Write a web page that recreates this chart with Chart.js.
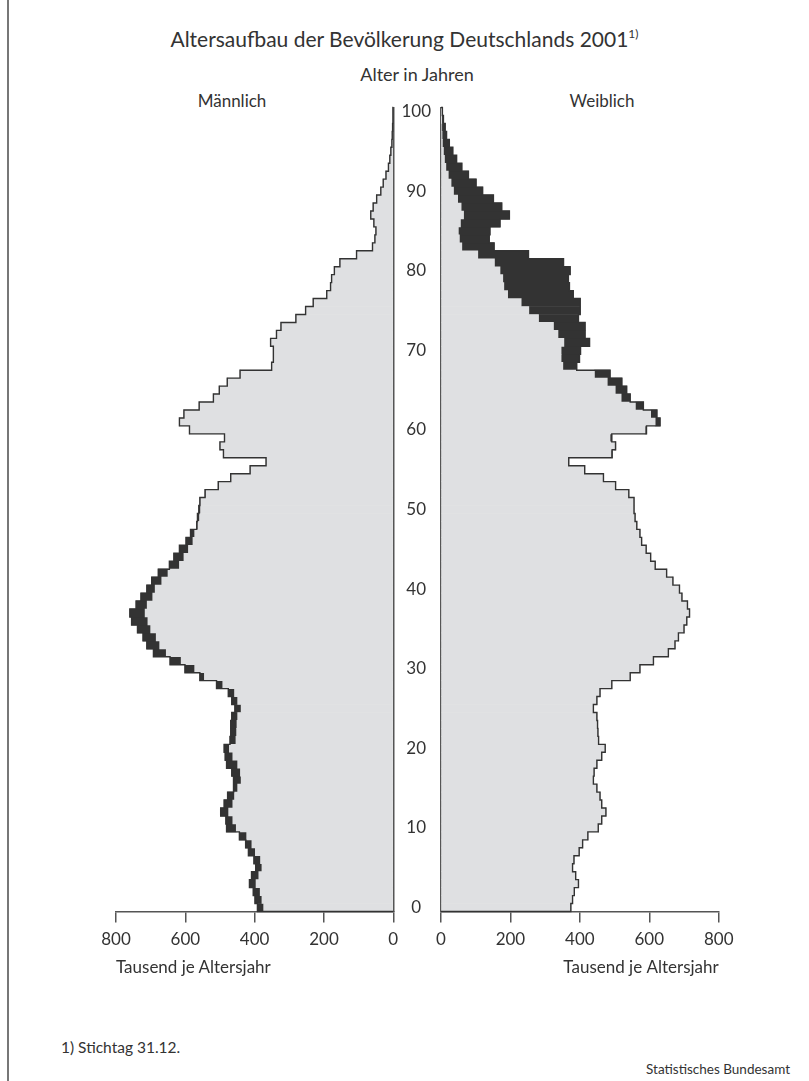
<!DOCTYPE html>
<html lang="de">
<head>
<meta charset="utf-8">
<title>Altersaufbau der Bevölkerung Deutschlands 2001</title>
<script src="https://cdn.jsdelivr.net/npm/chart.js@4.4.1/dist/chart.umd.min.js"></script>
<style>
    html, body { margin: 0; padding: 0; background: #fff; }
    body {
        width: 809px; height: 1081px; position: relative; overflow: hidden;
        font-family: Lato, 'Open Sans', sans-serif; color: #333;
    }
    .frame { position: absolute; left: 7px; top: 0; width: 2px; height: 1081px; background: #777; }
    .txt { position: absolute; white-space: nowrap; line-height: 1.2; }
    #title { left: 0; width: 809px; top: 26px; text-align: center; font-size: 21px; }
    #title sup { font-size: 12px; vertical-align: 9px; line-height: 0; }
    #ageTitle { left: 317px; width: 200px; top: 64px; text-align: center; font-size: 18px; }
    #maleTitle { left: 132px; width: 200px; top: 91px; text-align: center; font-size: 17px; }
    #femaleTitle { left: 502px; width: 200px; top: 91px; text-align: center; font-size: 17px; }
    #maleUnit { left: 116px; top: 957px; font-size: 17px; }
    #note { left: 61px; top: 1038px; font-size: 15.5px; }
    #source { right: 19px; top: 1061px; font-size: 13.5px; }
    .box { position: absolute; top: 0; height: 1000px; }
    #maleBox { left: 0; width: 400px; }
    #femaleBox { left: 393px; width: 416px; }
</style>
</head>
<body>
<div class="frame"></div>
<div class="txt" id="title">Altersaufbau der Bevölkerung Deutschlands 2001<sup>1)</sup></div>
<div class="txt" id="ageTitle">Alter in Jahren</div>
<div class="txt" id="maleTitle">Männlich</div>
<div class="txt" id="femaleTitle">Weiblich</div>
<div class="box" id="maleBox"><canvas id="maleChart" width="400" height="1000"></canvas></div>
<div class="box" id="femaleBox"><canvas id="femaleChart" width="416" height="1000"></canvas></div>
<div class="txt" id="maleUnit">Tausend je Altersjahr</div>
<div class="txt" id="note">1) Stichtag 31.12.</div>
<div class="txt" id="source">Statistisches Bundesamt</div>

<script>
// Ages 0..100 (one bar per Altersjahr)
const ages = [
    0, 1, 2, 3, 4, 5, 6, 7, 8, 9,
    10, 11, 12, 13, 14, 15, 16, 17, 18, 19,
    20, 21, 22, 23, 24, 25, 26, 27, 28, 29,
    30, 31, 32, 33, 34, 35, 36, 37, 38, 39,
    40, 41, 42, 43, 44, 45, 46, 47, 48, 49,
    50, 51, 52, 53, 54, 55, 56, 57, 58, 59,
    60, 61, 62, 63, 64, 65, 66, 67, 68, 69,
    70, 71, 72, 73, 74, 75, 76, 77, 78, 79,
    80, 81, 82, 83, 84, 85, 86, 87, 88, 89,
    90, 91, 92, 93, 94, 95, 96, 97, 98, 99,
    100
];

// Männlich, Tausend je Altersjahr
const maleValues = [
    392, 399, 404, 415, 409, 397, 402, 418, 426, 444,
    481, 483, 498, 488, 478, 461, 461, 466, 481, 485,
    488, 471, 469, 469, 466, 457, 466, 476, 510, 558,
    601, 644, 692, 711, 722, 738, 755, 760, 742, 728,
    711, 697, 678, 646, 633, 617, 598, 585, 567, 565,
    561, 558, 543, 505, 469, 413, 367, 490, 500, 487,
    588, 617, 604, 560, 519, 502, 479, 442, 351, 346,
    346, 354, 337, 324, 281, 253, 231, 192, 181, 178,
    170, 154, 106, 60, 53, 50, 56, 65, 58, 48,
    36, 29, 21, 14, 10, 7, 4, 3, 2, 1,
    1
];

// Weiblich, Tausend je Altersjahr
const femaleValues = [
    374, 379, 384, 396, 388, 379, 383, 398, 408, 423,
    453, 463, 475, 463, 458, 449, 439, 441, 449, 463,
    473, 454, 452, 451, 449, 439, 449, 458, 492, 545,
    573, 612, 655, 674, 684, 700, 708, 716, 710, 694,
    687, 668, 650, 617, 604, 591, 578, 573, 564, 559,
    556, 556, 541, 503, 468, 414, 368, 493, 503, 492,
    592, 631, 622, 583, 545, 535, 521, 487, 391, 399,
    402, 428, 415, 415, 396, 401, 401, 381, 370, 367,
    372, 353, 252, 153, 139, 141, 170, 197, 175, 151,
    120, 101, 79, 60, 45, 34, 24, 16, 12, 7,
    4
];

const ageTicks = [0, 10, 20, 30, 40, 50, 60, 70, 80, 90, 100];
const valueTicks = [0, 200, 400, 600, 800];

const LIGHT = '#dfe0e2';
const DARK = '#333333';
const AXIS = '#555555';
const TEXT = '#333333';

Chart.defaults.font.family = "Lato, 'Open Sans', sans-serif";
Chart.defaults.color = TEXT;

// shared part = smaller of both sexes, surplus drawn dark on the larger side
const common = ages.map((a, i) => Math.min(maleValues[i], femaleValues[i]));
const maleSurplus = ages.map((a, i) => Math.max(maleValues[i] - femaleValues[i], 0));
const femaleSurplus = ages.map((a, i) => Math.max(femaleValues[i] - maleValues[i], 0));

// step outline along the outer edge of the stacked bars
const outlinePlugin = {
    id: 'outline',
    afterDatasetsDraw(chart) {
        const bars = chart.getDatasetMeta(1).data;
        const base = chart.scales.x.getPixelForValue(0);
        const ctx = chart.ctx;
        ctx.save();
        ctx.strokeStyle = DARK;
        ctx.lineWidth = 1.4;
        ctx.beginPath();
        bars.forEach((bar, i) => {
            const p = bar.getProps(['x', 'y', 'height'], true);
            const half = p.height / 2;
            if (i === 0) ctx.moveTo(base, p.y + half);
            ctx.lineTo(p.x, p.y + half);
            ctx.lineTo(p.x, p.y - half);
        });
        const last = bars[bars.length - 1].getProps(['y', 'height'], true);
        ctx.lineTo(base, last.y - last.height / 2);
        ctx.stroke();
        ctx.restore();
    }
};

function makeSide(canvasId, surplus, isMale) {
    const xAxis = {
        type: 'linear',
        min: 0,
        max: 800,
        reverse: isMale,
        stacked: true,
        z: 1,
        afterFit: (scale) => { scale.height = 70; },
        afterBuildTicks: (scale) => { scale.ticks = valueTicks.map(v => ({ value: v })); },
        ticks: { autoSkip: false, maxRotation: 0, padding: 7, font: { size: 17 }, color: TEXT },
        grid: { drawOnChartArea: false, drawTicks: true, tickLength: 11, color: AXIS, lineWidth: 1.5 },
        border: { display: true, color: AXIS, width: 1.5 },
        // the reversed male axis puts its title in the wrong corner, so that one is an HTML label
        title: {
            display: !isMale,
            text: 'Tausend je Altersjahr',
            align: 'end',
            font: { size: 17 },
            color: TEXT,
            padding: { top: 0, bottom: 4 }
        }
    };

    const yAxis = {
        type: 'category',
        position: isMale ? 'right' : 'left',
        reverse: true,
        stacked: true,
        z: 1,
        grid: { display: false, drawTicks: false },
        border: { display: true, color: AXIS, width: 1.5 }
    };

    if (isMale) {
        yAxis.afterFit = (scale) => { scale.width = 0; };
        yAxis.ticks = { display: false };
    } else {
        yAxis.afterFit = (scale) => { scale.width = 48; };
        yAxis.ticks = {
            autoSkip: false,
            crossAlign: 'center',
            padding: 10,
            font: { size: 17 },
            color: TEXT,
            callback: (value, index) => ageTicks.includes(ages[index]) ? String(ages[index]) : ''
        };
    }

    return new Chart(document.getElementById(canvasId), {
        type: 'bar',
        data: {
            labels: ages,
            datasets: [
                { data: common, backgroundColor: LIGHT, stack: 's' },
                { data: surplus, backgroundColor: DARK, stack: 's' }
            ]
        },
        options: {
            indexAxis: 'y',
            responsive: false,
            animation: false,
            events: [],
            layout: {
                padding: isMale
                    ? { left: 116, right: 6.7, top: 107.5, bottom: 18.5 }
                    : { left: 0, right: 90.3, top: 107.5, bottom: 18.5 }
            },
            datasets: { bar: { categoryPercentage: 1, barPercentage: 1, borderWidth: 0 } },
            plugins: { legend: { display: false }, tooltip: { enabled: false } },
            scales: { x: xAxis, y: yAxis }
        },
        plugins: [outlinePlugin]
    });
}

makeSide('maleChart', maleSurplus, true);
makeSide('femaleChart', femaleSurplus, false);
</script>
</body>
</html>
